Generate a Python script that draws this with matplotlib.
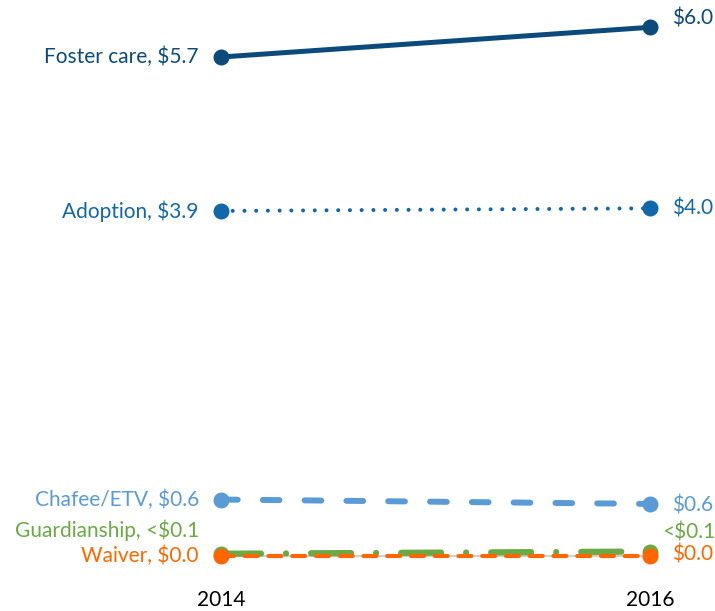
import matplotlib
matplotlib.use("Agg")
import matplotlib.pyplot as plt

plt.rcParams['font.family'] = ['Lato', 'DejaVu Sans']

years = [2014, 2016]
series_names = ["Foster care", "Adoption", "Chafee/ETV", "Guardianship", "Waiver"]
foster = [5.70, 6.04]
adoption = [3.94, 3.97]
chafee = [0.64, 0.59]
guardianship = [0.02, 0.045]
waiver = [0.0, 0.0]
left_labels = ["Foster care, $5.7", "Adoption, $3.9", "Chafee/ETV, $0.6",
               "Guardianship, <$0.1", "Waiver, $0.0"]
right_labels = ["$6.0", "$4.0", "$0.6", "<$0.1", "$0.0"]
tick_labels = ["2014", "2016"]

colors = ["#0b4a7a", "#1167a8", "#5b9bd5", "#6aaa45", "#ff6600"]

W, H, DPI = 715, 611, 100
fig = plt.figure(figsize=(W / DPI, H / DPI), dpi=DPI)
x0, x1 = 221, 650
yb, yt = 555.5, 27.3
ax = fig.add_axes([x0 / W, 1 - yb / H, (x1 - x0) / W, (yb - yt) / H])
ax.set_xlim(2014, 2016)
ax.set_ylim(0, 6.04)
for s in ax.spines.values():
    s.set_visible(False)
ax.set_yticks([])
ax.set_xticks(years)
ax.set_xticklabels(tick_labels, fontsize=15, color="black")
ax.tick_params(axis='x', length=0, pad=25)

# zero baseline
ax.plot(years, [0, 0], color="#d0d0d0", lw=1.5, zorder=1, clip_on=False)

data = [foster, adoption, chafee, guardianship, waiver]
styles = [
    dict(ls='-', lw=3.6),
    dict(ls=(0, (0.01, 2.9)), lw=2.9),
    dict(ls=(0, (2.8, 4.2)), lw=4.3),
    dict(ls=(0, (6.4, 4.0, 0.01, 4.0)), lw=4.5),
    dict(ls=(0, (3.1, 2.6)), lw=3.0),
]
zorders = [5, 5, 5, 6, 7]
for vals, c, st, z in zip(data, colors, styles, zorders):
    ax.plot(years, vals, color=c, linestyle=st['ls'], lw=st['lw'],
            dash_capstyle='round', solid_capstyle='round',
            marker='o', markersize=10.5, clip_on=False, zorder=z)

# label offsets in points (layout only)
left_off = [0, 0, 0, 17, 0]
right_off = [6, 0, -1.5, 14, 1]
right_dx = [16, 16, 16, 8.5, 16]
for vals, c, lt, rt, lo, ro, dx in zip(data, colors, left_labels, right_labels,
                                      left_off, right_off, right_dx):
    ax.annotate(lt, (years[0], vals[0]), xytext=(-16, lo),
                textcoords='offset points', ha='right', va='center',
                fontsize=15, color=c, annotation_clip=False)
    ax.annotate(rt, (years[1], vals[1]), xytext=(dx, ro),
                textcoords='offset points', ha='left', va='center',
                fontsize=15, color=c, annotation_clip=False)

fig.savefig("out.png", dpi=DPI)
